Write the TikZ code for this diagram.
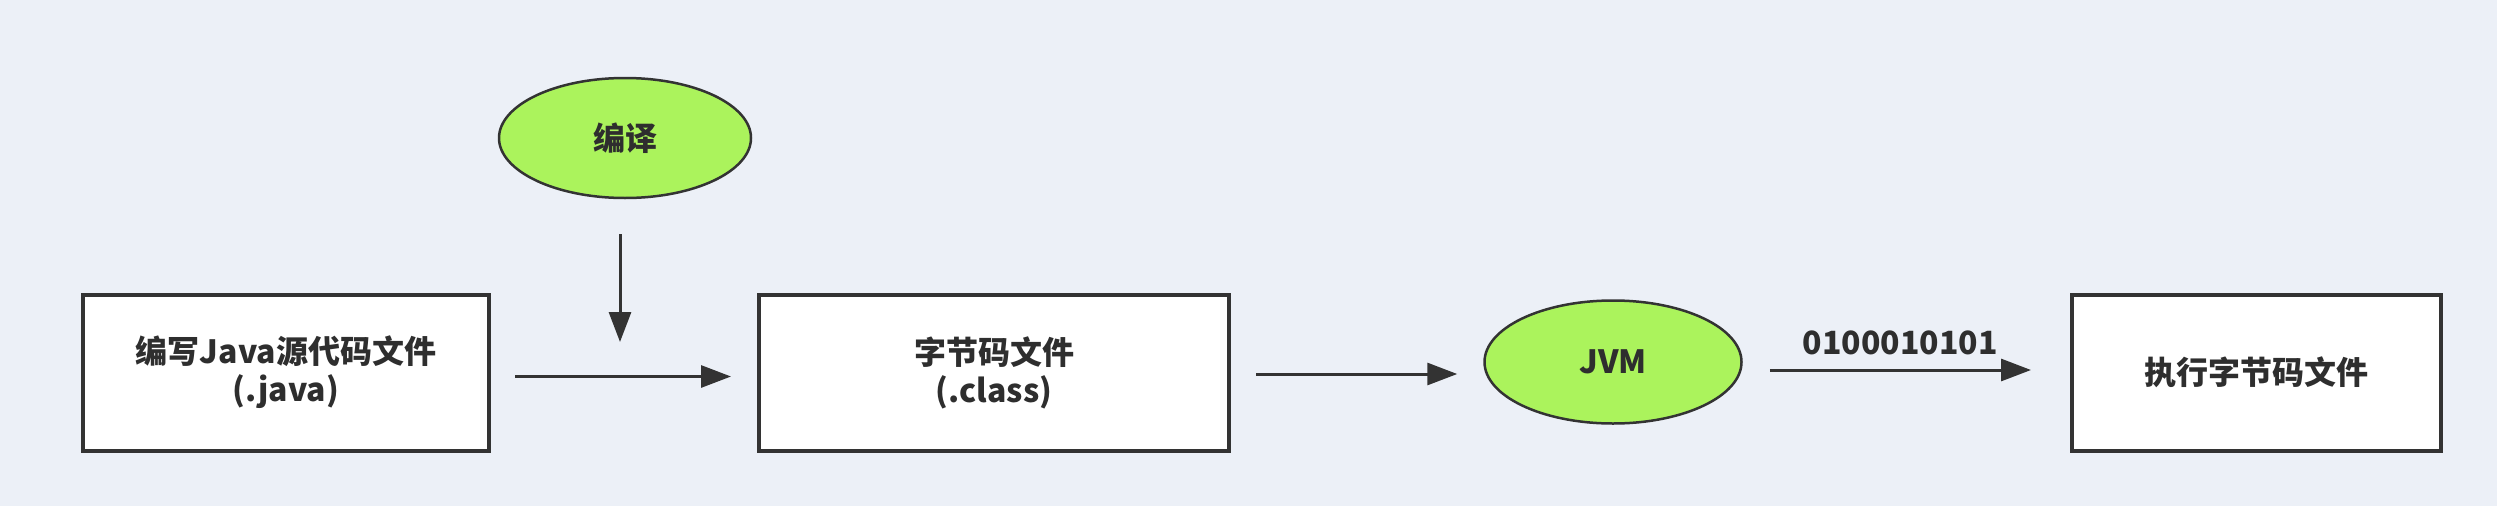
\documentclass[tikz,border=0pt]{standalone}
\usepackage{fontspec}
\setmainfont{Noto Sans CJK SC}
\usetikzlibrary{arrows.meta,shapes.geometric}
\definecolor{bgc}{HTML}{ECF0F7}
\definecolor{linec}{HTML}{333333}
\definecolor{txtc}{HTML}{2E2E2E}
\definecolor{greenc}{HTML}{ABF35C}
\tikzset{
  filebox/.style={draw=linec, line width=4pt, fill=white, rectangle,
    minimum height=156pt, inner sep=0pt, align=center,
    font=\fontsize{32}{38}\selectfont\bfseries, text=txtc},
  greenoval/.style={draw=linec, line width=2.5pt, fill=greenc, ellipse,
    inner sep=0pt, font=\fontsize{32}{38}\selectfont\bfseries, text=txtc},
  flow/.style={draw=linec, line width=3pt, -{Triangle[length=30pt,width=22pt]}},
  lbl/.style={font=\fontsize{32}{38}\selectfont\bfseries, text=txtc, inner sep=0pt}
}
\begin{document}
\begin{tikzpicture}[x=1pt,y=-1pt]
\fill[bgc] (0,0) rectangle (2497,506);
\useasboundingbox (0,0) rectangle (2497,506);
\node[filebox, minimum width=406pt] (box1) at (286,372.5) {编写Java源代码文件\\(.java)};
\node[filebox, minimum width=470pt] (box2) at (994,372.5) {字节码文件\\(.class)};
\node[filebox, minimum width=369pt] (box3) at (2256.5,372.5) {执行字节码文件};
\node[greenoval, minimum width=252pt, minimum height=120pt] (e1) at (625,138) {\raisebox{-4pt}{编译}};
\node[greenoval, minimum width=257pt, minimum height=123pt] (jvm) at (1613,362) {\raisebox{-3pt}{JVM}};
\coordinate (join) at (620,342);
\draw[flow] ([shift={(-5,35)}]e1.south) -- (join);
\draw[flow] ([shift={(24,4)}]box1.east) -- ([shift={(-26,4)}]box2.west);
\draw[flow] ([shift={(25,1.5)}]box2.east) -- ([shift={(-26,1.5)}]box2.east -| jvm.west);
\draw[flow] ([shift={(27,8)}]jvm.east) -- ([shift={(-39,8)}]jvm.east -| box3.west) node[lbl, midway, above=14pt] (bits) {0100010101};
\end{tikzpicture}
\end{document}
